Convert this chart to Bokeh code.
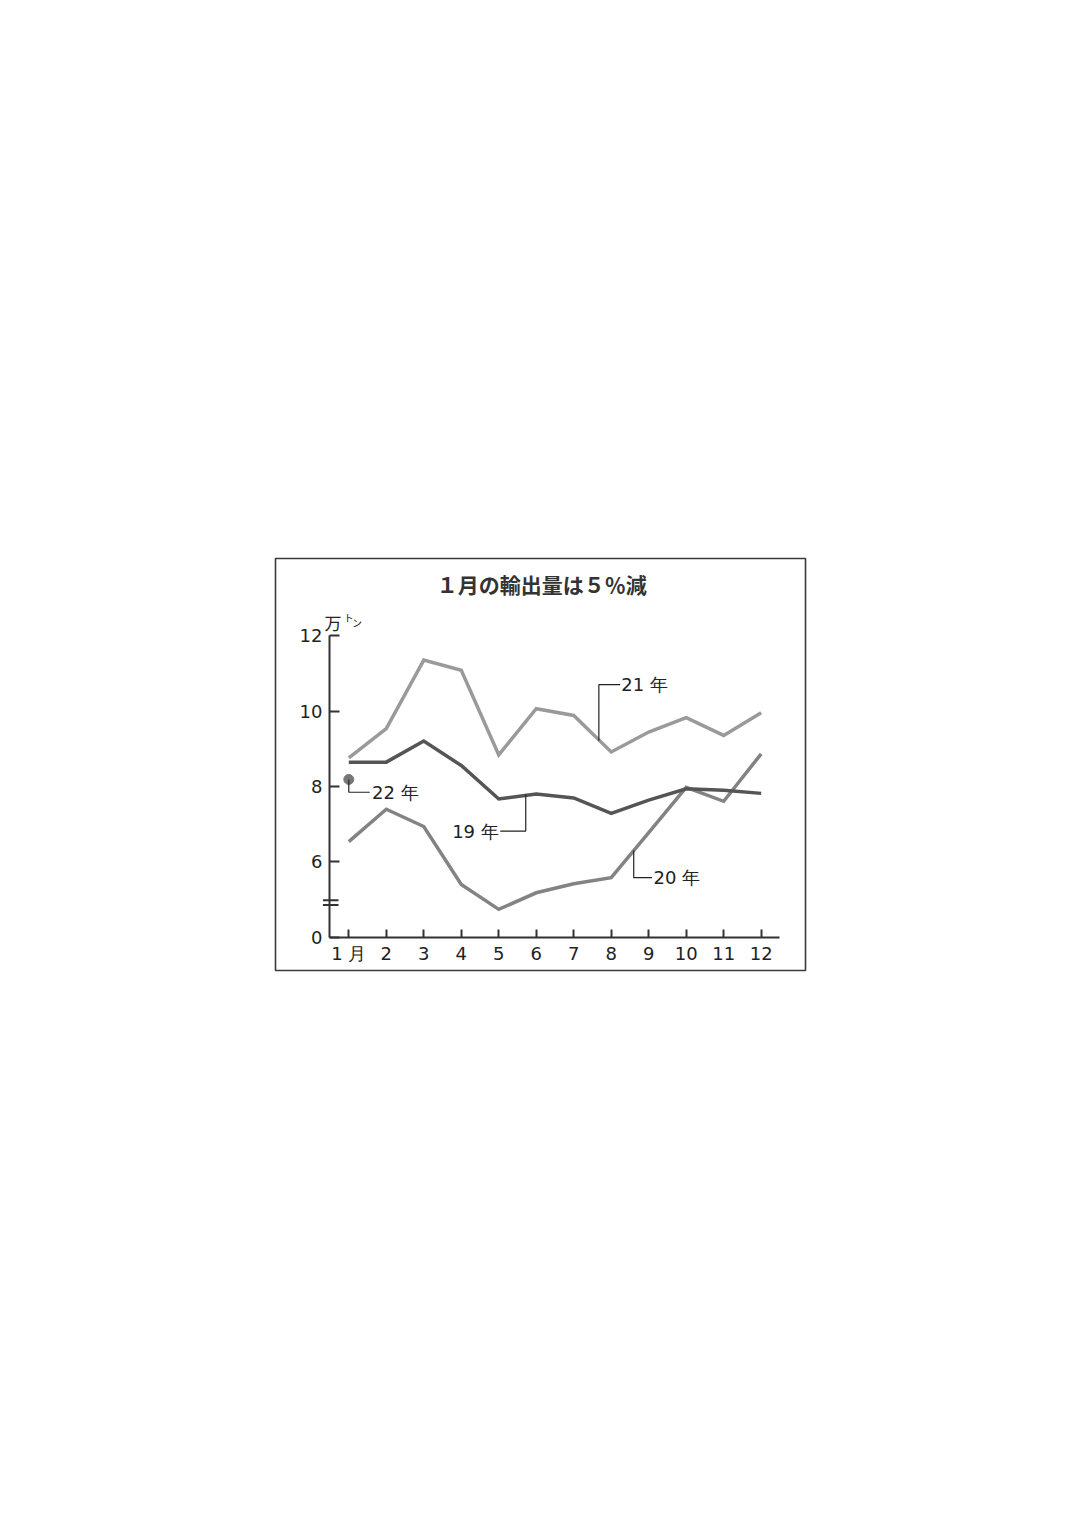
from bokeh.plotting import figure
from bokeh.models import Range1d, FixedTicker, Label
from bokeh.embed import file_html
from bokeh.resources import INLINE

# ---- data ----
months = list(range(1, 13))
month_labels = ["1 月", "2", "3", "4", "5", "6", "7", "8", "9", "10", "11", "12"]
y_ticks = [4, 6, 8, 10, 12]
y_tick_labels = ["0", "6", "8", "10", "12"]

exports_19 = [8.65, 8.65, 9.21, 8.56, 7.67, 7.80, 7.70, 7.29, 7.64, 7.94, 7.90, 7.82]
exports_20 = [6.54, 7.40, 6.94, 5.40, 4.74, 5.18, 5.42, 5.58, 6.78, 7.98, 7.61, 8.87]
exports_21 = [8.76, 9.54, 11.36, 11.09, 8.84, 10.07, 9.89, 8.92, 9.45, 9.83, 9.36, 9.96]
exports_22 = [8.19]
months_22 = [1]

title_text = "１月の輸出量は５％減"
series_names = ["19 年", "20 年", "21 年", "22 年"]

CJK = "Noto Sans CJK JP"
NUM = "DejaVu Sans"
TXT = "#222222"

W, H = 1073, 1100
p = figure(width=W, height=H, output_backend="svg", toolbar_location=None,
           x_range=Range1d(-0.955, 13.182), y_range=Range1d(3.116, 14.058),
           min_border_left=275, min_border_right=W - 805, min_border_top=558,
           min_border_bottom=H - 558 - 412)
p.title.visible = False
p.xgrid.visible = False
p.ygrid.visible = False
p.outline_line_color = "#3a3a3a"
p.outline_line_width = 1.6
p.background_fill_color = "white"
p.border_fill_color = "white"

for ax in (p.xaxis[0], p.yaxis[0]):
    ax.axis_line_color = "#333333"
    ax.axis_line_width = 2
    ax.major_tick_line_color = "#333333"
    ax.major_tick_line_width = 2
    ax.major_tick_out = 0
    ax.minor_tick_line_color = None
    ax.major_label_text_font = NUM
    ax.major_label_text_font_size = "18px"
    ax.major_label_text_color = TXT

p.xaxis[0].fixed_location = 4
p.xaxis[0].ticker = FixedTicker(ticks=months)
p.xaxis[0].major_label_overrides = {m: l for m, l in zip(months, month_labels)}
p.xaxis[0].bounds = (0.485, 12.496)
p.xaxis[0].major_tick_in = 8
p.xaxis[0].major_label_standoff = 6

p.yaxis[0].fixed_location = 0.485
p.yaxis[0].ticker = FixedTicker(ticks=y_ticks)
p.yaxis[0].major_label_overrides = {t: l for t, l in zip(y_ticks, y_tick_labels)}
p.yaxis[0].bounds = (4, 12)
p.yaxis[0].major_tick_in = 10
p.yaxis[0].major_label_standoff = 7

# axis break marks
p.segment(x0=[0.31, 0.31], y0=[4.985, 4.855], x1=[0.725, 0.725], y1=[4.985, 4.855],
          line_color="#333333", line_width=2)

# data lines
p.line(months, exports_21, line_color="#9a9a9a", line_width=3.5, line_join="miter")
p.line(months, exports_20, line_color="#838383", line_width=3.5, line_join="miter")
p.line(months, exports_19, line_color="#555555", line_width=3.5, line_join="miter")
p.scatter(months_22, exports_22, size=10, color="#777777")

# leader lines and series labels
leaders = [
    ([7.67, 7.67, 8.24], [9.22, 10.71, 10.71], 8.27, 10.71, "left", series_names[2]),
    ([1.0, 1.0, 1.56], [8.19, 7.85, 7.85], 1.62, 7.85, "left", series_names[3]),
    ([5.04, 5.72, 5.72], [6.82, 6.82, 7.79], 5.0, 6.82, "right", series_names[0]),
    ([8.6, 8.6, 9.09], [6.30, 5.58, 5.58], 9.13, 5.58, "left", series_names[1]),
]
for xs, ys, tx, ty, al, name in leaders:
    p.line(xs, ys, line_color="#222222", line_width=1.2)
    p.add_layout(Label(x=tx, y=ty, text=name, text_align=al, text_baseline="middle",
                       text_font=NUM, text_font_size="18px", text_color=TXT))

# title and unit
p.add_layout(Label(x=6.15, y=13.37, text=title_text, text_align="center",
                   text_baseline="middle", text_font=CJK, text_font_size="21px",
                   text_font_style="bold", text_color="#333333"))
p.add_layout(Label(x=0.579, y=12.345, text="万", text_align="center",
                   text_baseline="middle", text_font=CJK, text_font_size="17px",
                   text_color=TXT))
p.add_layout(Label(x=1.0, y=12.50, text="ト", text_align="center",
                   text_baseline="middle", text_font=CJK, text_font_size="10px",
                   text_color=TXT))
p.add_layout(Label(x=1.22, y=12.36, text="ン", text_align="center",
                   text_baseline="middle", text_font=CJK, text_font_size="10px",
                   text_color=TXT))

open("out.html", "w").write(file_html(p, INLINE))
